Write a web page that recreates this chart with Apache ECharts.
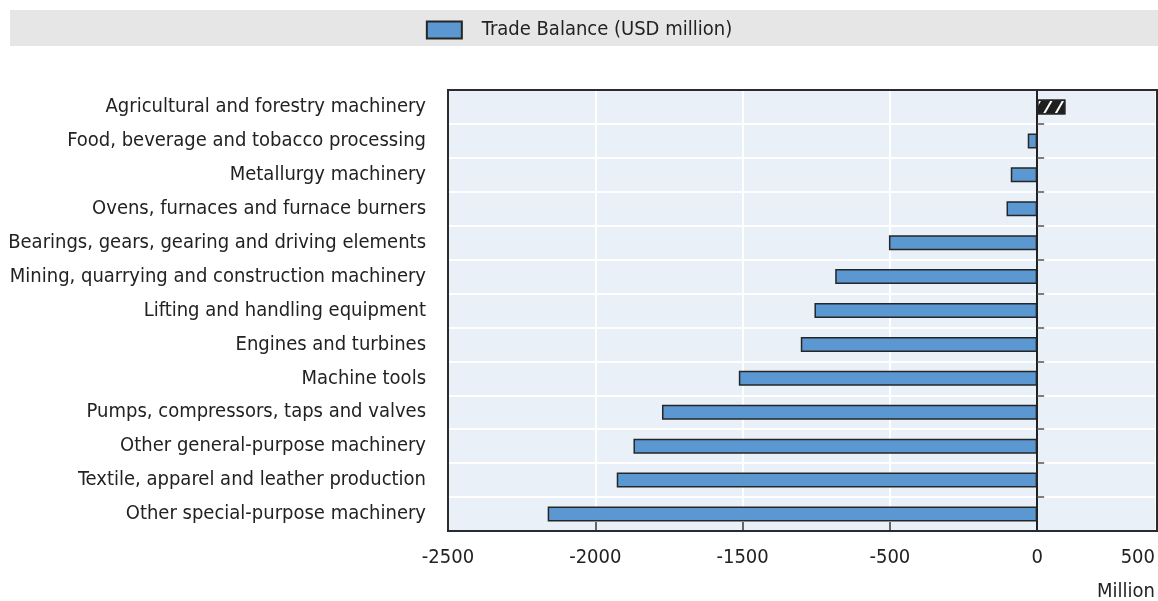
<!DOCTYPE html>
<html>
<head>
<meta charset="utf-8">
<script src="https://cdn.jsdelivr.net/npm/echarts@6/dist/echarts.min.js"></script>
<style>
html,body{margin:0;padding:0;background:#fff;}
#chart{width:1158px;height:601px;}
</style>
</head>
<body>
<div id="chart"></div>
<script>
const categories = [
  "Agricultural and forestry machinery",
  "Food, beverage and tobacco processing",
  "Metallurgy machinery",
  "Ovens, furnaces and furnace burners",
  "Bearings, gears, gearing and driving elements",
  "Mining, quarrying and construction machinery",
  "Lifting and handling equipment",
  "Engines and turbines",
  "Machine tools",
  "Pumps, compressors, taps and valves",
  "Other general-purpose machinery",
  "Textile, apparel and leather production",
  "Other special-purpose machinery"
];
const tradeBalance = [120, -40, -112, -130, -629, -857, -945, -1003, -1266, -1592, -1713, -1784, -2077];
const hatchedIndex = 0;
const seriesName = "Trade Balance (USD million)";
const xTickValues = [-2500, -1875, -1250, -625, 0, 500];
const xTickLabels = ["-2500", "-2000", "-1500", "-500", "0", "500"];
const xInnerTicks = [-1875, -1250, -625, 0];
const unitLabel = "Million";

const FONT = "'DejaVu Sans Condensed', 'Liberation Sans Narrow', sans-serif";
const TXT = '#222';
const FS = 20;
const G = {left: 448, top: 90, width: 709, height: 441};

const chart = echarts.init(document.getElementById('chart'), null, {renderer: 'canvas'});

const barData = tradeBalance.map((v, i) => {
  if (i === hatchedIndex) {
    return {
      value: v,
      itemStyle: {
        color: '#1f1f1f',
        decal: {
          symbol: 'rect',
          symbolSize: 1,
          color: '#ffffff',
          dashArrayX: [1, 0],
          dashArrayY: [2, 8],
          rotation: -Math.PI / 3
        }
      }
    };
  }
  return v;
});

const option = {
  animation: false,
  textStyle: {fontFamily: FONT},
  graphic: [
    {type: 'rect', left: 10, top: 10, z: -10, shape: {width: 1148, height: 36}, style: {fill: '#e6e6e6'}},
    {type: 'text', right: 3, top: 582, style: {text: unitLabel, font: FS + 'px ' + FONT, fill: TXT}},
    {type: 'rect', z: 100, silent: true,
      shape: {x: G.left, y: G.top, width: G.width, height: G.height},
      style: {fill: null, stroke: '#2b2b2b', lineWidth: 2}}
  ],
  legend: {
    data: [seriesName],
    left: 'center',
    top: 15,
    itemWidth: 35,
    itemHeight: 17,
    icon: 'rect',
    textStyle: {fontSize: FS, color: TXT, fontFamily: FONT, padding: [0, 0, 0, 15]}
  },
  grid: {
    left: G.left, top: G.top, width: G.width, height: G.height,
    show: true,
    backgroundColor: '#eaf0f8',
    borderWidth: 0,
    containLabel: false
  },
  xAxis: {
    type: 'value',
    min: -2500, max: 500, interval: 625,
    axisLine: {show: false, onZero: false},
    axisTick: {show: true, inside: true, length: 9, customValues: xInnerTicks, lineStyle: {color: '#333', width: 1.5}},
    splitLine: {show: true, lineStyle: {color: '#ffffff', width: 2}},
    axisLabel: {
      fontSize: FS, color: TXT, fontFamily: FONT, margin: 17,
      showMinLabel: true, showMaxLabel: true, alignMaxLabel: 'right',
      formatter: function (v) {
        const i = xTickValues.findIndex(t => Math.abs(t - v) < 1e-6);
        return i >= 0 ? xTickLabels[i] : '';
      }
    }
  },
  yAxis: [
    {
      type: 'category',
      data: categories,
      inverse: true,
      position: 'left',
      axisLine: {show: false, onZero: false},
      axisTick: {show: false},
      splitLine: {show: true, lineStyle: {color: '#ffffff', width: 2}},
      axisLabel: {fontSize: FS, color: TXT, fontFamily: FONT, margin: 22}
    },
    {
      type: 'category',
      data: categories,
      inverse: true,
      position: 'right',
      axisLine: {show: true, onZero: true, onZeroAxisIndex: 0, lineStyle: {color: '#222', width: 2}},
      axisTick: {show: true, inside: false, length: 7, lineStyle: {color: '#555', width: 1.5}},
      axisLabel: {show: false},
      splitLine: {show: false},
      z: 50
    }
  ],
  series: [
    {
      name: seriesName,
      type: 'bar',
      yAxisIndex: 0,
      data: barData,
      barWidth: 15,
      itemStyle: {color: '#5b97d1', borderColor: '#262626', borderWidth: 1.5}
    }
  ]
};
chart.setOption(option);
</script>
</body>
</html>
